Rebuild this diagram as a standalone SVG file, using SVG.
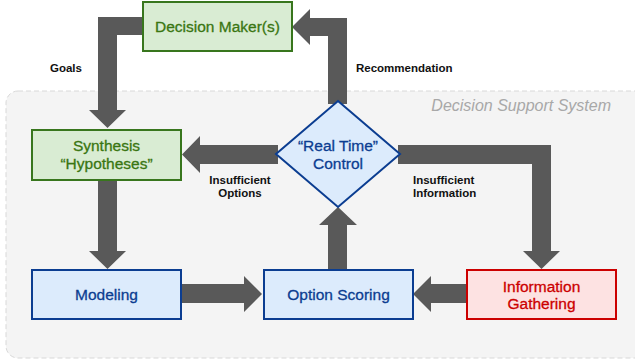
<svg xmlns="http://www.w3.org/2000/svg" width="635" height="360" viewBox="0 0 635 360">
<defs>
<style>
.lbl{font-family:"Liberation Sans",Arial,sans-serif;font-size:11.5px;font-weight:bold;fill:#111}
.nt{font-family:"Liberation Sans",Arial,sans-serif;font-size:15.5px;text-anchor:middle;stroke-width:0.3px}
.g rect{fill:#d9ecd3;stroke:#38761d;stroke-width:2}
.g text{fill:#3a7612;stroke:#3a7612}
.b rect,.b polygon{fill:#dcebfc;stroke:#0b3d91;stroke-width:2}
.b text{fill:#0b3d91;stroke:#0b3d91}
.r rect{fill:#fde2e2;stroke:#cc0000;stroke-width:2}
.r text{fill:#cc0000;stroke:#cc0000}
.arr polygon{fill:#595959}
</style>
</defs>
<rect width="635" height="360" fill="#ffffff"/>
<g id="dss">
<rect x="6" y="91" width="650" height="267" rx="12" fill="#f4f4f4" stroke="#d8d8d8" stroke-width="1" stroke-dasharray="5,3"/>
<text x="611" y="111" text-anchor="end" font-family="Liberation Sans,Arial,sans-serif" font-size="16" font-style="italic" fill="#a8a8a8">Decision Support System</text>
</g>
<g id="connectors" class="arr">
<polygon points="142,17 98,17 98,110 89,110 107.5,128 126,110 117,110 117,35 142,35"/>
<polygon points="328,104 328,36 310,36 310,45 292,27 310,9 310,18 347,18 347,104"/>
<polygon points="278,145 200,145 200,136 182,154.5 200,173 200,164 278,164"/>
<polygon points="398,145 551,145 551,251 560,251 541.5,269 523,251 532,251 532,164 398,164"/>
<polygon points="98,180 98,251 89,251 107.5,269 126,251 117,251 117,180"/>
<polygon points="181,284 244,284 244,276 262,294 244,312 244,303 181,303"/>
<polygon points="466,284 431,284 431,276 413,294 431,312 431,303 466,303"/>
<polygon points="328,269 328,225 319,225 338,207 357,225 347,225 347,269"/>
<text class="lbl" x="50" y="72">Goals</text>
<text class="lbl" x="356" y="72">Recommendation</text>
<text class="lbl" x="240" y="184" text-anchor="middle">Insufficient</text>
<text class="lbl" x="240" y="197" text-anchor="middle">Options</text>
<text class="lbl" x="413" y="184">Insufficient</text>
<text class="lbl" x="413" y="197">Information</text>
</g>
<g id="decision-maker" class="g">
<rect x="143" y="2" width="149" height="49"/>
<text class="nt" x="217.5" y="32">Decision Maker(s)</text>
</g>
<g id="synthesis" class="g">
<rect x="32" y="130" width="149" height="50"/>
<text class="nt" x="106.5" y="151">Synthesis</text>
<text class="nt" x="106.5" y="169">“Hypotheses”</text>
</g>
<g id="control" class="b">
<polygon points="338,101 400,154 338,207 276,154"/>
<text class="nt" x="338" y="151">“Real Time”</text>
<text class="nt" x="338" y="169">Control</text>
</g>
<g id="modeling" class="b">
<rect x="32" y="270" width="149" height="49"/>
<text class="nt" x="106.5" y="300">Modeling</text>
</g>
<g id="option-scoring" class="b">
<rect x="264" y="270" width="149" height="49"/>
<text class="nt" x="338.5" y="300">Option Scoring</text>
</g>
<g id="information-gathering" class="r">
<rect x="467" y="270" width="149" height="49"/>
<text class="nt" x="541.5" y="292">Information</text>
<text class="nt" x="541.5" y="309">Gathering</text>
</g>
</svg>
